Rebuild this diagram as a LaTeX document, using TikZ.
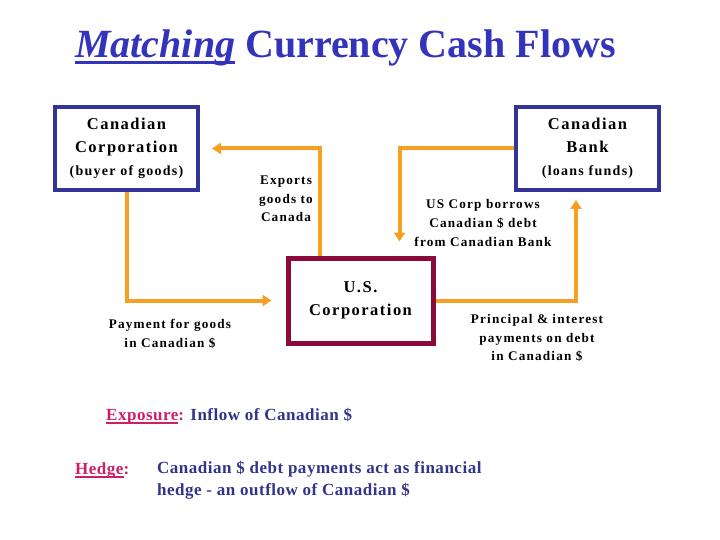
\documentclass[tikz,border=0pt]{standalone}
\usepackage{fontspec}
\setmainfont{Liberation Serif}
\newfontfamily\spacedfont[LetterSpace=9]{Liberation Serif}
\newfontfamily\notefont[LetterSpace=3]{Liberation Serif}
\usetikzlibrary{arrows.meta,positioning}
\definecolor{titleblue}{RGB}{51,51,187}
\definecolor{boxnavy}{RGB}{51,51,153}
\definecolor{boxmaroon}{RGB}{139,10,60}
\definecolor{floworange}{RGB}{245,160,33}
\definecolor{notepink}{RGB}{204,31,102}
\definecolor{notenavy}{RGB}{51,51,138}
% thick underline: #1 drop, #2 thickness, #3 text
\newsavebox\ulbox
\newcommand{\thickul}[3]{\sbox\ulbox{#3}\rlap{\usebox\ulbox}\rule[-#1]{\wd\ulbox}{#2}}

\begin{document}
\begin{tikzpicture}[x=1pt, y=-1pt,
    party/.style={draw=boxnavy, line width=4pt, minimum width=143pt, minimum height=83pt,
                  align=center, inner sep=0pt, font=\spacedfont\bfseries\fontsize{16.5}{23}\selectfont},
    flow/.style={draw=floworange, line width=4pt, -{Triangle[length=9pt,width=11pt]}},
    flowlabel/.style={align=center, font=\spacedfont\bfseries\fontsize{13.2}{18.7}\selectfont},
    note/.style={anchor=base west, inner sep=0pt, font=\notefont\bfseries\fontsize{17}{22}\selectfont}]
    \useasboundingbox (0,0) rectangle (720,540);

    % Title
    \node[anchor=base west, inner sep=0pt, text=titleblue,
          font=\fontsize{40}{44}\selectfont\bfseries] (title) at (75,58)
          {\thickul{6pt}{3pt}{\textit{Matching}} Currency Cash Flows};

    % Parties
    \node[party] (cancorp) at (126.5,148.5)
          {Canadian\\Corporation\\{\fontsize{14}{18}\selectfont (buyer of goods)}};
    \node[party] (canbank) at (587.5,148.5)
          {Canadian\\Bank\\{\fontsize{14}{18}\selectfont (loans funds)}};
    \node[party, draw=boxmaroon, line width=5pt, minimum width=145pt, minimum height=85pt]
          (uscorp) at (360.5,300.5) {U.S.\\Corporation};

    % Flows
    \draw[flow, shorten >=12pt] ([xshift=34pt]uscorp.north west) |- (cancorp.east);
    \draw[flow, shorten >=14pt] (canbank.west) -| ([xshift=114pt]uscorp.north west);
    \draw[flow, shorten >=14pt] (cancorp.south) |- (uscorp.west);
    \draw[flow, shorten >=8pt] (uscorp.east) -| ([xshift=62pt]canbank.south west);

    % Flow labels
    \node[flowlabel] (exports) at (286,199) {Exports\\goods to\\Canada};
    \node[flowlabel] (borrows) at (483,223) {US Corp borrows\\Canadian \$ debt\\from Canadian Bank};
    \node[flowlabel] (payment) at (170,334) {Payment for goods\\in Canadian \$};
    \node[flowlabel] (interest) at (537,338) {Principal \& interest\\payments on debt\\in Canadian \$};

    % Notes
    \node[note] (exposure) at (106,420)
          {\textcolor{notepink}{\thickul{4pt}{2pt}{Exposure}:} \textcolor{notenavy}{Inflow of Canadian \$}};
    \node[note, text=notepink] (hedge) at (75,474) {\thickul{4pt}{2pt}{Hedge}:};
    \node[note, anchor=north west, align=left, text=notenavy] (hedgetext) at (157,461)
          {Canadian \$ debt payments act as financial\\hedge - an outflow of Canadian \$};
\end{tikzpicture}
\end{document}
